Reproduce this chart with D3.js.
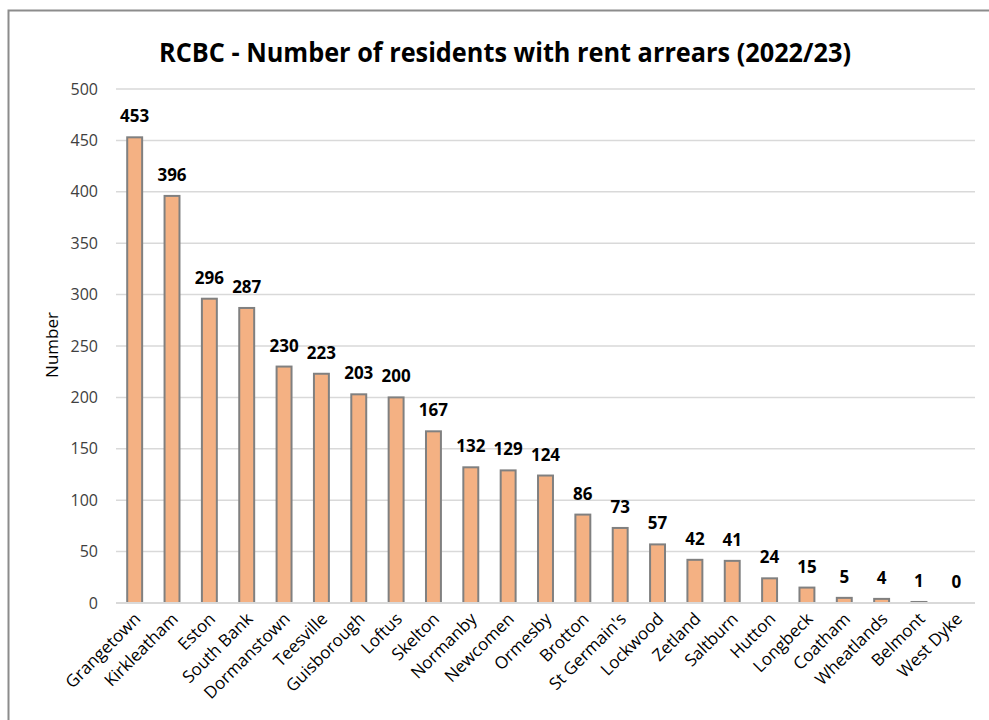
<!DOCTYPE html>
<html>
<head>
<meta charset="utf-8">
<script src="https://cdn.jsdelivr.net/npm/d3@7"></script>
<style>
  html, body { margin: 0; padding: 0; background: #fff; }
  svg { display: block; }
  text { font-family: "Open Sans", "Noto Sans", sans-serif; }
</style>
</head>
<body>
<svg id="chart" width="989" height="720"></svg>
<script>
const categories = ["Grangetown","Kirkleatham","Eston","South Bank","Dormanstown","Teesville","Guisborough","Loftus","Skelton","Normanby","Newcomen","Ormesby","Brotton","St Germain's","Lockwood","Zetland","Saltburn","Hutton","Longbeck","Coatham","Wheatlands","Belmont","West Dyke"];
const values = [453,396,296,287,230,223,203,200,167,132,129,124,86,73,57,42,41,24,15,5,4,1,0];
const yTicks = [0,50,100,150,200,250,300,350,400,450,500];
const title = "RCBC - Number of residents with rent arrears (2022/23)";
const yTitle = "Number";

const svg = d3.select("#chart");

// outer frame
svg.append("rect").attr("x", 8.5).attr("y", 10.5).attr("width", 1000).attr("height", 760)
  .attr("fill", "#fff").attr("stroke", "#8c8c8c").attr("stroke-width", 2);

const pLeft = 116, pRight = 975, pTop = 89, pBottom = 603;
const x = d3.scaleBand().domain(categories).range([pLeft, pRight]).paddingInner(0.6).paddingOuter(0.3);
const y = d3.scaleLinear().domain([0, 500]).range([pBottom, pTop]);

// gridlines
svg.append("g").selectAll("line").data(yTicks).join("line")
  .attr("x1", pLeft).attr("x2", pRight)
  .attr("y1", d => y(d)).attr("y2", d => y(d))
  .attr("stroke", "#d9d9d9").attr("stroke-width", 1.5);

// y axis labels
const yAxis = d3.axisLeft(y).tickValues(yTicks).tickSize(0).tickPadding(0);
const gy = svg.append("g").attr("transform", `translate(${98},0)`).call(yAxis);
gy.select(".domain").remove();
gy.selectAll("text").attr("font-size", 16).attr("fill", "#404040")
  .attr("font-family", "'Open Sans', sans-serif");

// bars
svg.append("g").selectAll("rect").data(values).join("rect")
  .attr("x", (d, i) => x(categories[i]))
  .attr("y", d => y(d))
  .attr("width", x.bandwidth())
  .attr("height", d => y(0) - y(d))
  .attr("fill", "#F4B183")
  .attr("stroke", "#808080")
  .attr("stroke-width", 2);

// baseline
svg.append("line").attr("x1", pLeft).attr("x2", pRight).attr("y1", y(0)).attr("y2", y(0))
  .attr("stroke", "#d9d9d9").attr("stroke-width", 2);

// data labels
svg.append("g").selectAll("text").data(values).join("text")
  .attr("x", (d, i) => x(categories[i]) + x.bandwidth() / 2)
  .attr("y", d => y(d) - 15)
  .attr("text-anchor", "middle")
  .attr("font-size", 17).attr("font-weight", "bold").attr("fill", "#000")
  .text(d => d);

// x axis labels
const xAxis = d3.axisBottom(x).tickSize(0).tickPadding(0);
const gx = svg.append("g").attr("transform", `translate(0,${y(0)})`).call(xAxis);
gx.select(".domain").remove();
gx.selectAll("text")
  .attr("font-size", 17).attr("fill", "#000")
  .attr("font-family", "'Open Sans', sans-serif")
  .attr("text-anchor", "end")
  .attr("dy", null).attr("y", 0)
  .attr("transform", "translate(7,17) rotate(-45)");

// title
svg.append("text").attr("x", 505).attr("y", 62).attr("text-anchor", "middle")
  .attr("font-family", "'Liberation Sans Narrow', 'Open Sans', sans-serif")
  .attr("font-size", 26).attr("font-weight", "bold").attr("fill", "#000")
  .attr("textLength", 692).attr("lengthAdjust", "spacingAndGlyphs")
  .text(title);

// y title
svg.append("text").attr("transform", "translate(58,345) rotate(-90)")
  .attr("text-anchor", "middle").attr("font-size", 17).attr("fill", "#000")
  .text(yTitle);
</script>
</body>
</html>
